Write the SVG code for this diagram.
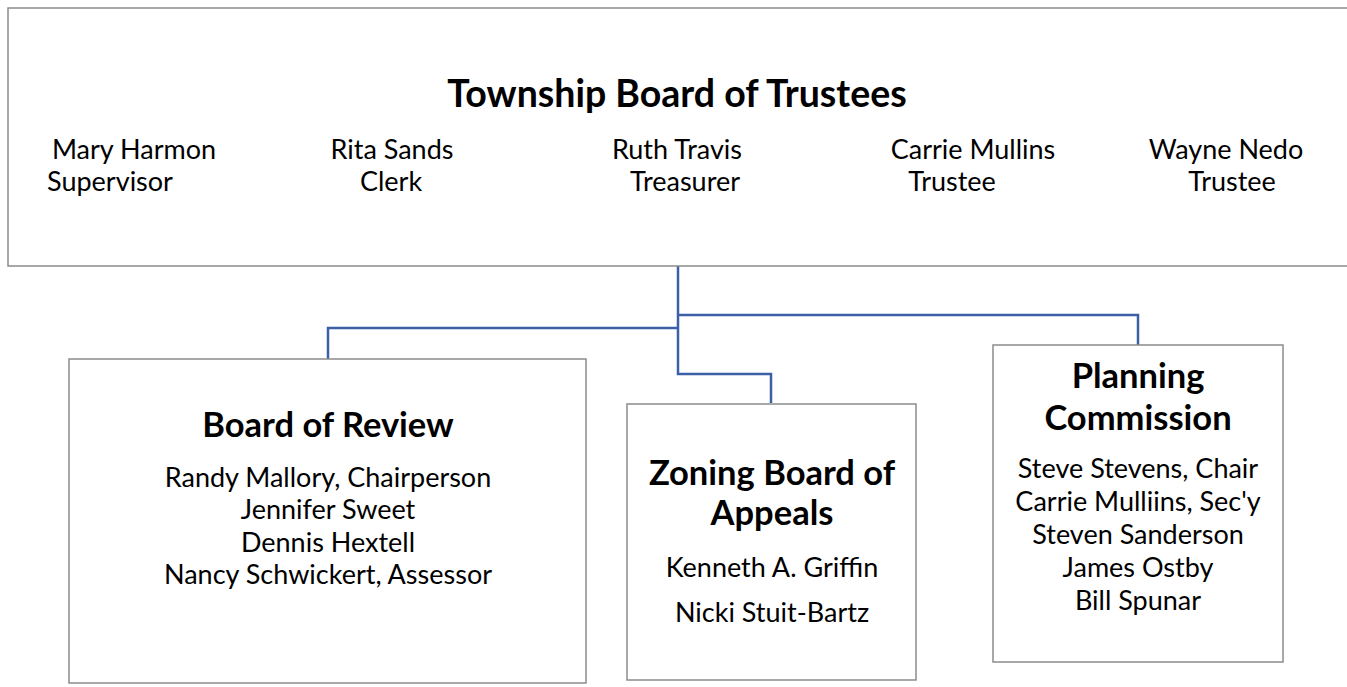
<svg xmlns="http://www.w3.org/2000/svg" width="1347" height="687" viewBox="0 0 1347 687">
<style>
.box{fill:#fff;stroke:#8c8c8c;stroke-width:1.5}
.conn{fill:none;stroke:#3b60a6;stroke-width:2.5}
text{font-family:Lato,"Open Sans",sans-serif;fill:#000;text-anchor:middle}
.t{font-size:37.5px;font-weight:bold}
.h{font-size:34.5px;font-weight:bold}
.b{font-size:27px}
</style>
<rect width="1347" height="687" fill="#fff"/>
<g id="connectors">
<path class="conn" d="M678,266 V374 H771 V403"/>
<path class="conn" d="M678,328 H328 V359"/>
<path class="conn" d="M678,315 H1138 V345"/>
</g>
<g id="trustees">
<rect class="box" x="8" y="8" width="1345" height="258"/>
<text class="t" x="677" y="107">Township Board of Trustees</text>
<text class="b" x="134" y="159">Mary Harmon</text>
<text class="b" x="110" y="191">Supervisor</text>
<text class="b" x="392" y="159">Rita Sands</text>
<text class="b" x="391" y="191">Clerk</text>
<text class="b" x="677" y="159">Ruth Travis</text>
<text class="b" x="685" y="191">Treasurer</text>
<text class="b" x="973" y="159">Carrie Mullins</text>
<text class="b" x="952" y="191">Trustee</text>
<text class="b" x="1226" y="159">Wayne Nedo</text>
<text class="b" x="1232" y="191">Trustee</text>
</g>
<g id="board-of-review">
<rect class="box" x="69" y="359" width="517" height="324"/>
<text class="h" x="328" y="437">Board of Review</text>
<text class="b" x="328" y="487">Randy Mallory, Chairperson</text>
<text class="b" x="328" y="519">Jennifer Sweet</text>
<text class="b" x="328" y="552">Dennis Hextell</text>
<text class="b" x="328" y="584">Nancy Schwickert, Assessor</text>
</g>
<g id="zoning-board">
<rect class="box" x="627" y="404" width="289" height="276"/>
<text class="h" x="772" y="485">Zoning Board of</text>
<text class="h" x="772" y="525">Appeals</text>
<text class="b" x="772" y="577">Kenneth A. Griffin</text>
<text class="b" x="772" y="622">Nicki Stuit-Bartz</text>
</g>
<g id="planning-commission">
<rect class="box" x="993" y="345" width="290" height="317"/>
<text class="h" x="1138" y="388">Planning</text>
<text class="h" x="1138" y="430">Commission</text>
<text class="b" x="1138" y="478">Steve Stevens, Chair</text>
<text class="b" x="1138" y="511">Carrie Mulliins, Sec'y</text>
<text class="b" x="1138" y="544">Steven Sanderson</text>
<text class="b" x="1138" y="577">James Ostby</text>
<text class="b" x="1138" y="610">Bill Spunar</text>
</g>
</svg>
